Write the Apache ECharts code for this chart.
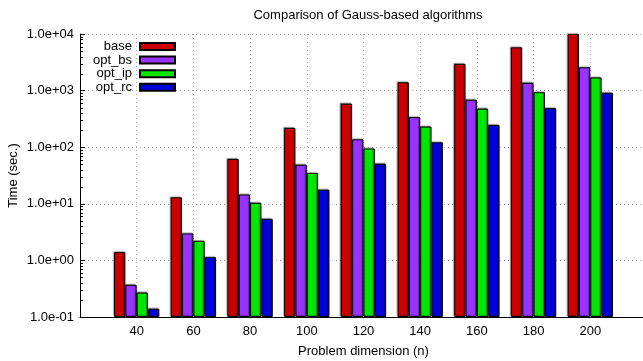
<!DOCTYPE html>
<html>
<head>
<meta charset="utf-8">
<script src="https://cdn.jsdelivr.net/npm/echarts@6/dist/echarts.min.js"></script>
<style>
html,body{margin:0;padding:0;background:#fff;}
#c{width:643px;height:361px;}
</style>
</head>
<body>
<div id="c"></div>
<script>
// Data
var categories = ['', '40', '60', '80', '100', '120', '140', '160', '180', '200', ''];
var seriesNames = ['base', 'opt_bs', 'opt_ip', 'opt_rc'];
var base  = ['-', 1.4, 13, 62, 219, 586, 1406, 2965, 5808, 10000, '-'];
var optBs = ['-', 0.37, 3.0, 14.6, 49, 138, 340, 689, 1371, 2582, '-'];
var optIp = ['-', 0.27, 2.2, 10.4, 35, 95, 231, 479, 937, 1702, '-'];
var optRc = ['-', 0.14, 1.14, 5.4, 17.7, 50.6, 122, 246, 490, 915, '-'];
var colors = ['#cc0000', '#9933ff', '#00e600', '#0000d8'];

var FONT = 'Liberation Sans, Arial, Helvetica, sans-serif';

function fmtExp(v) {
  var e = Math.round(Math.log10(v));
  var m = v / Math.pow(10, e);
  var s = Math.abs(e) < 10 ? '0' + Math.abs(e) : '' + Math.abs(e);
  return m.toFixed(1) + 'e' + (e < 0 ? '-' : '+') + s;
}

// minor tick positions on the log axis (2..9 per decade)
var minorTicks = [];
for (var k = -1; k <= 3; k++) {
  for (var j = 2; j <= 9; j++) minorTicks.push([0, j * Math.pow(10, k)]);
}

var chart = echarts.init(document.getElementById('c'), null, {renderer: 'canvas'});

var allData = [base, optBs, optIp, optRc];
var series = allData.map(function (d, i) {
  return {
    name: seriesNames[i],
    type: 'bar',
    data: d,
    barGap: '0%',
    barCategoryGap: '20%',
    itemStyle: {
      color: colors[i],
      borderColor: '#000',
      borderWidth: 1,
      shadowColor: 'rgba(0,0,0,0.35)',
      shadowBlur: 1,
      shadowOffsetX: -1,
      shadowOffsetY: -1
    },
    emphasis: {disabled: true},
    animation: false
  };
});
series.push({
  type: 'custom',
  silent: true,
  animation: false,
  data: minorTicks,
  encode: {x: 0, y: 1},
  renderItem: function (params, api) {
    var p = api.coord([0, api.value(1)]);
    var y = Math.round(p[1]) + 0.5;
    var x = Math.round(p[0]);
    return {type: 'line', shape: {x1: x, y1: y, x2: x + 3, y2: y}, style: {stroke: '#000', lineWidth: 1}};
  }
});

var legends = seriesNames.map(function (n, i) {
  return {
    data: [n],
    orient: 'vertical',
    align: 'right',
    right: 467,
    top: 40 + i * 13.6,
    padding: 0,
    itemWidth: 35,
    itemHeight: 7,
    icon: 'rect',
    selectedMode: false,
    textStyle: {fontFamily: FONT, fontSize: 13, color: '#000', padding: [0, 3, 0, 0]}
  };
});

chart.setOption({
  backgroundColor: '#fff',
  animation: false,
  textStyle: {fontFamily: FONT},
  title: {
    text: 'Comparison of Gauss-based algorithms',
    left: 363,
    textAlign: 'center',
    top: 4,
    textStyle: {fontFamily: FONT, fontSize: 13, fontWeight: 'normal', color: '#000'}
  },
  legend: legends,
  grid: {left: 80, right: -4, top: 34, bottom: 44, containLabel: false, outerBoundsMode: 'none'},
  xAxis: {
    type: 'category',
    data: categories,
    boundaryGap: false,
    name: 'Problem dimension (n)',
    nameLocation: 'middle',
    nameGap: 28,
    nameMoveOverlap: false,
    nameTextStyle: {fontFamily: FONT, fontSize: 13, color: '#000'},
    axisLine: {lineStyle: {color: '#000', width: 1}},
    axisTick: {show: false},
    axisLabel: {fontFamily: FONT, fontSize: 13, color: '#000', margin: 8},
    splitLine: {show: true, lineStyle: {color: '#a8a8a8', width: 1, type: [1, 3]}}
  },
  yAxis: {
    type: 'log',
    logBase: 10,
    min: 0.1,
    max: 10000,
    startValue: 0.1,
    name: 'Time (sec.)',
    nameLocation: 'middle',
    nameRotate: 90,
    nameGap: 60,
    nameMoveOverlap: false,
    nameTextStyle: {fontFamily: FONT, fontSize: 13, color: '#000'},
    axisLine: {show: true, lineStyle: {color: '#000', width: 1}},
    axisTick: {show: true, inside: true, length: 5, lineStyle: {color: '#000'}},
    axisLabel: {fontFamily: FONT, fontSize: 13, color: '#000', margin: 6, formatter: fmtExp},
    splitLine: {show: true, lineStyle: {color: '#a8a8a8', width: 1, type: [1, 3]}}
  },
  series: series
});
</script>
</body>
</html>
